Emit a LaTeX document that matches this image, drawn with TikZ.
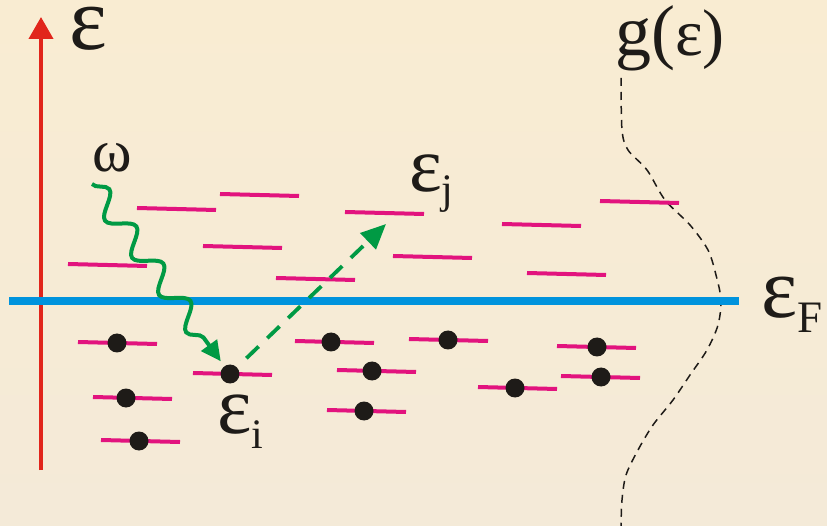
\documentclass[tikz,border=0pt]{standalone}
\usepackage{fontspec}
\setmainfont{Liberation Serif}
\usetikzlibrary{arrows.meta, positioning, decorations.pathmorphing}
\definecolor{axisred}{HTML}{E1251B}
\definecolor{fermiblue}{HTML}{0093DD}
\definecolor{levelpink}{HTML}{E2137E}
\definecolor{photongreen}{HTML}{009A44}
\definecolor{dotblack}{HTML}{1E1B18}
\definecolor{bgtop}{HTML}{F9ECD2}
\definecolor{bgbot}{HTML}{F4EAD8}
\newcommand{\lsub}[3]{\raisebox{#3}{\fontsize{#2}{#2}\selectfont #1}}
\tikzset{
  enlevel/.style={levelpink, line width=4pt},
  electron/.style={circle, fill=dotblack, inner sep=0pt, minimum size=19pt},
  lbl/.style={inner sep=0pt, anchor=base west, text=dotblack, text height=0.6em, text depth=0.2em},
  photon/.style={photongreen, line width=4pt, decorate,
    decoration={snake, amplitude=11pt, segment length=46pt, post length=14pt},
    -{Triangle[length=20pt, width=19pt]}},
  hop/.style={photongreen, line width=3.8pt, dash pattern=on 17pt off 12pt,
    -{Triangle[length=25pt, width=22pt]}},
}

\begin{document}
\begin{tikzpicture}[x=1pt, y=-1pt]
    \shade[top color=bgtop, bottom color=bgbot] (0,0) rectangle (827,526);
    \useasboundingbox (0,0) rectangle (827,526);

    % density of states
    \draw[dotblack, line width=1.5pt, dash pattern=on 8pt off 6pt] plot[smooth] coordinates {
      (621,78) (622,130) (628,150) (647,170) (665,200) (690,225) (708,250) (716,275)
      (721,300) (718,325) (707,350) (690,375) (673,400) (653,425) (638,450)
      (626,475) (622,500) (621,526)};
    \node[lbl, font=\fontsize{72}{72}\selectfont] (gEps) at (615,56)
      {g(\fontsize{66}{66}\selectfont ε)};

    % energy axis and Fermi level
    \coordinate (ybot) at (41,470);
    \coordinate (ytop) at (41,17);
    \draw[axisred, line width=4pt, -{Triangle[length=22pt, width=24pt]}] (ybot) -- (ytop);
    \node[lbl, text height=0.48em, font=\fontsize{90}{90}\selectfont] (epsAxis) at (69,50) {ε};
    \coordinate (fl) at (9,301);
    \coordinate (fr) at (739,301);
    \draw[fermiblue, line width=8pt] (fl) -- (fr);
    \node[lbl, font=\fontsize{86}{86}\selectfont] (epsF) at (761,318) {ε\lsub{F}{45}{-15pt}};

    % empty levels
    \foreach \x/\y in {137/209, 220/195, 203/247, 68/265, 276/279, 345/213,
                       502/225, 393/257, 527/274, 600/202}
      \draw[enlevel] (\x,\y-1) -- ++(79,2);

    % occupied levels
    \foreach \x/\y/\d [count=\n] in {78/343/117, 193/374/230, 93/398/126, 101/441/139,
                       295/342/331, 337/371/372, 327/411/364, 409/340/448,
                       557/347/597, 561/377/601, 478/388/515} {
      \draw[enlevel] (\x,\y-1) -- ++(79,2);
      \node[electron] (e\n) at (\d,\y) {};
    }

    % excitation
    \node[lbl, font=\fontsize{60}{60}\selectfont] (omega) at (92,172) {ω};
    \coordinate (wstart) at (92,184);
    \draw[photon, shorten >=6pt] (wstart) -- (e2);
    \coordinate (jtip) at (386,224);
    \draw[hop, shorten <=13pt] (e2) -- (jtip);
    \node[lbl, font=\fontsize{78}{78}\selectfont] (epsJ) at (409,192) {ε\lsub{j}{42}{-12pt}};
    \node[lbl, font=\fontsize{82}{82}\selectfont] (epsI) at (217,433) {ε\lsub{i}{42}{-15pt}};
\end{tikzpicture}
\end{document}
